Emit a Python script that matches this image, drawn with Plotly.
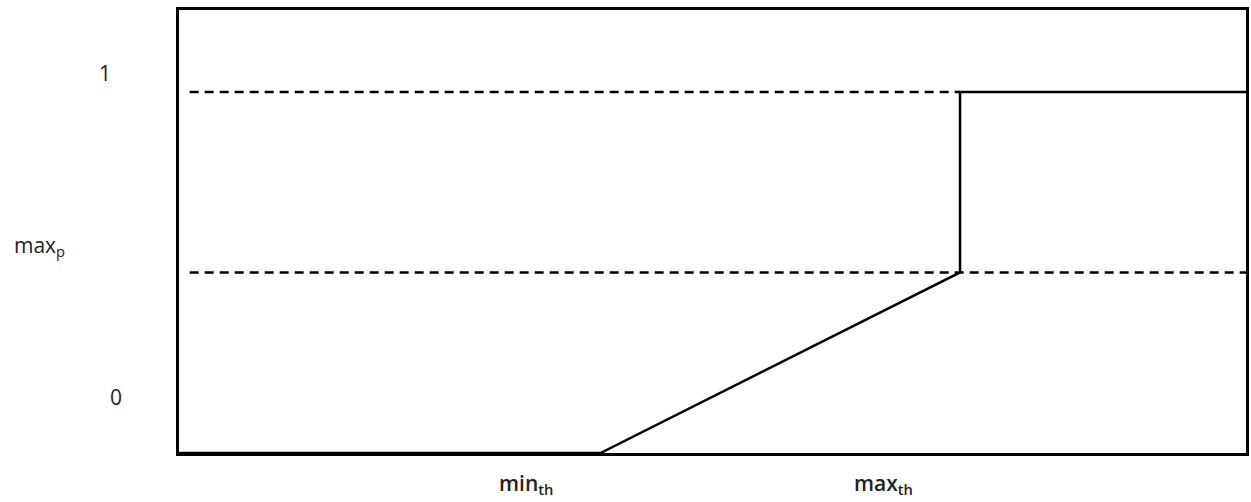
import plotly.graph_objects as go

# Drop-probability curve (x: average queue length, 0..100 scale; y: probability)
curve_x = [0, 39.5, 73.2, 73.2, 100]
curve_y = [0, 0, 0.5, 1.0, 1.0]

# Reference dashed levels
level_one_x = [1.0, 73.2]
level_one_y = [1.0, 1.0]
level_maxp_x = [1.0, 100]
level_maxp_y = [0.5, 0.5]

# Axis labels (text, paper x, paper y, anchor, weight)
label_text = ["1", "max<sub>p</sub>", "0", "min<sub>th</sub>", "max<sub>th</sub>"]
label_px = [105, 12, 116, 498, 854]
label_py = [73, 246, 397, 484, 484]
label_anchor = ["center", "left", "center", "left", "left"]
label_weight = [400, 400, 400, 600, 600]

L, R, T, B = 179, 2, 10, 49
W, H = 1251, 502
PW, PH = W - L - R, H - T - B

fig = go.Figure()
fig.add_trace(go.Scatter(x=level_one_x, y=level_one_y, mode="lines",
                         line=dict(color="black", width=2.5, dash="9px,6px"),
                         showlegend=False, hoverinfo="skip"))
fig.add_trace(go.Scatter(x=level_maxp_x, y=level_maxp_y, mode="lines",
                         line=dict(color="black", width=2.5, dash="9px,6px"),
                         showlegend=False, hoverinfo="skip"))
fig.add_trace(go.Scatter(x=curve_x, y=curve_y, mode="lines",
                         line=dict(color="black", width=2.5),
                         showlegend=False, cliponaxis=False))

for t, px, py, a, wt in zip(label_text, label_px, label_py, label_anchor, label_weight):
    fig.add_annotation(x=(px - L) / PW, y=(H - B - py) / PH, xref="paper", yref="paper",
                       text=t, showarrow=False, xanchor=a, yanchor="middle",
                       font=dict(family="Open Sans", size=21, color="#222222", weight=wt))

fig.update_xaxes(range=[0, 100], showgrid=False, zeroline=False, showticklabels=False,
                 ticks="", showline=True, mirror=True, linecolor="black", linewidth=2.5)
fig.update_yaxes(range=[0, 1.227], showgrid=False, zeroline=False, showticklabels=False,
                 ticks="", showline=True, mirror=True, linecolor="black", linewidth=2.5)
fig.update_layout(width=W, height=H, margin=dict(l=L, r=R, t=T, b=B),
                  plot_bgcolor="white", paper_bgcolor="white")
fig.write_html("out.html", config={"displayModeBar": False},
               post_script="document.body.style.margin='0';document.body.style.overflow='hidden';")
